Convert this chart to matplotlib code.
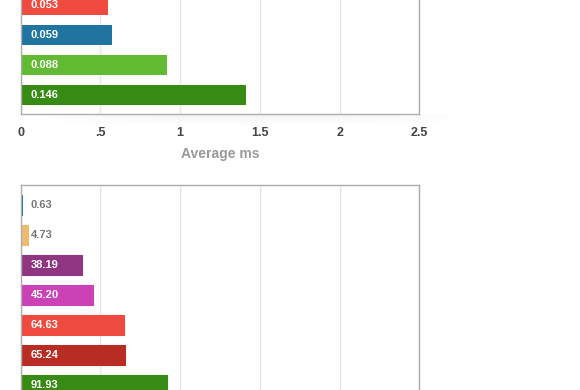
import matplotlib
matplotlib.use("Agg")
import matplotlib.pyplot as plt
import numpy as np

plt.rcParams['font.family'] = ['Liberation Sans', 'DejaVu Sans']

# ---- data ----
top_labels = ["0.053", "0.059", "0.088", "0.146"]
top_lengths = [0.548, 0.570, 0.916, 1.413]          # bar lengths read on the 0-2.5 axis
top_colors = ["#EF4A3F", "#1F74A0", "#62BA33", "#378A14"]
top_ticks = [0, 0.5, 1, 1.5, 2, 2.5]
top_ticklabels = ["0", ".5", "1", "1.5", "2", "2.5"]
top_xlabel = "Average ms"

bot_values = [0.63, 4.73, 38.19, 45.20, 64.63, 65.24, 91.93]
bot_labels = ["0.63", "4.73", "38.19", "45.20", "64.63", "65.24", "91.93"]
bot_colors = ["#1F74A0", "#EDBB6F", "#8F3582", "#CB42B6", "#EF4A3F", "#B82D23", "#378A14"]
bot_ticks = [0, 50, 100, 150, 200, 250]

W, H = 580, 390
fig = plt.figure(figsize=(5.8, 3.9), dpi=100)

def px_axes(left, top, right, bottom, **kw):
    return fig.add_axes([left / W, (H - bottom) / H, (right - left) / W, (bottom - top) / H], **kw)

SPINE = "#adadad"
GRID = "#e6e6e6"

def style(ax):
    for s in ax.spines.values():
        s.set_color(SPINE)
        s.set_linewidth(1.0)
    ax.tick_params(length=0)
    ax.set_yticks([])
    ax.grid(axis='x', color=GRID, linewidth=1.0)
    ax.set_axisbelow(True)

# soft shadow under the top chart (drawn first, behind everything)
sh = px_axes(40, 114.5, 460, 128)
sh.set_axis_off()
sh.set_zorder(0)
gy = np.linspace(1, 0, 30)[:, None] ** 1.5
gx = np.sin(np.linspace(0, np.pi, 200))[None, :] ** 0.7
alpha = 0.07 * gy * gx
rgba = np.zeros(alpha.shape + (4,))
rgba[..., :3] = 0.2
rgba[..., 3] = alpha
sh.imshow(rgba, aspect='auto', interpolation='bilinear')

# ---- top chart ----
ax1 = px_axes(20.7, -20, 419.3, 114)
ax1.set_zorder(1)
ax1.patch.set_alpha(0)
style(ax1)
y1 = np.arange(len(top_lengths))
ax1.barh(y1, top_lengths, height=0.667, color=top_colors, zorder=2)
ax1.set_xlim(0, 2.5)
ax1.set_ylim(3 + (114 - 94.7) / 30, -(4.7 + 20) / 30)
ax1.set_xticks(top_ticks)
ax1.set_xticklabels(top_ticklabels, fontsize=9, fontweight='bold', color='#444444')
ax1.tick_params(axis='x', pad=9.5)
ax1.set_xlabel(top_xlabel, fontsize=10, fontweight='bold', color='#999999', labelpad=5.5)
for yi, lab in zip(y1, top_labels):
    ax1.annotate(lab, xy=(0, yi), xytext=(7.4, 0), textcoords='offset points',
                 va='center', ha='left', fontsize=8, fontweight='bold', color='white', zorder=3)

# ---- bottom chart ----
ax2 = px_axes(20.7, 185.3, 419.3, 410)
style(ax2)
y2 = np.arange(len(bot_values))
ax2.barh(y2, bot_values, height=0.667, color=bot_colors, edgecolor=bot_colors,
         linewidth=0.8, zorder=2)
ax2.set_xlim(0, 250)
ax2.set_ylim(6 + 25 / 30, -19.7 / 30)
ax2.set_xticks(bot_ticks)
ax2.set_xticklabels([])
for yi, lab, v in zip(y2, bot_labels, bot_values):
    inside = v > 20
    ax2.annotate(lab, xy=(0, yi), xytext=(7.4, 0), textcoords='offset points',
                 va='center', ha='left', fontsize=8, fontweight='bold',
                 color='white' if inside else '#777777', zorder=3)

fig.savefig("out.png", dpi=100)
